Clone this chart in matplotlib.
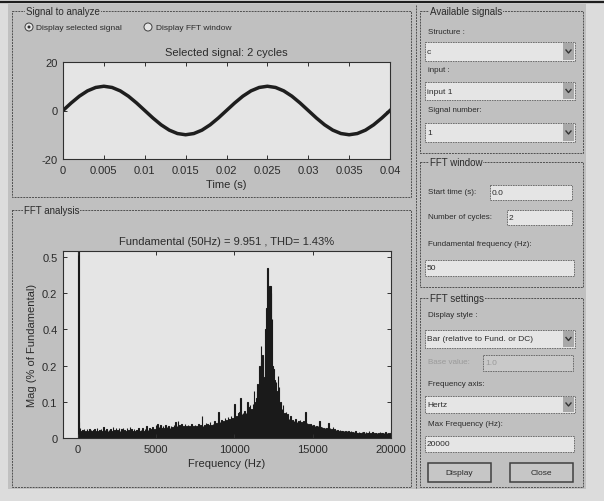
import matplotlib.pyplot as plt
from matplotlib.patches import Rectangle, Circle

plt.rcParams['font.family'] = ['Liberation Sans', 'DejaVu Sans']
plt.rcParams['axes.unicode_minus'] = False

W, H = 604, 502
GRAY = '#c0c0c0'
LIGHT = '#e5e5e5'
INK = '#2b2b2b'

# signal, every 1 ms
t = [i * 0.001 for i in range(41)]
signal = [0.0, 3.1, 5.9, 8.1, 9.5, 10.0, 9.5, 8.1, 5.9, 3.1,
          0.0, -3.1, -5.9, -8.1, -9.5, -10.0, -9.5, -8.1, -5.9, -3.1,
          0.0, 3.1, 5.9, 8.1, 9.5, 10.0, 9.5, 8.1, 5.9, 3.1,
          0.0, -3.1, -5.9, -8.1, -9.5, -10.0, -9.5, -8.1, -5.9, -3.1,
          0.0]
time_ticks = [0, 0.005, 0.01, 0.015, 0.02, 0.025, 0.03, 0.035, 0.04]
time_labels = ['0', '0.005', '0.01', '0.015', '0.02', '0.025', '0.03', '0.035', '0.04']

# harmonic magnitudes (% of fundamental), 50 Hz steps
mag_0_5k = [
    100, 0.045, 0.028, 0.02, 0.015, 0.022, 0.018, 0.025, 0.014, 0.02,
    0.017, 0.024, 0.015, 0.02, 0.026, 0.016, 0.021, 0.015, 0.019, 0.023,
    0.018, 0.025, 0.014, 0.02, 0.028, 0.016, 0.019, 0.022, 0.015, 0.024,
    0.017, 0.02, 0.03, 0.015, 0.021, 0.016, 0.025, 0.015, 0.019, 0.022,
    0.017, 0.026, 0.02, 0.015, 0.03, 0.019, 0.023, 0.015, 0.027, 0.018,
    0.021, 0.016, 0.029, 0.02, 0.016, 0.024, 0.019, 0.028, 0.015, 0.022,
    0.02, 0.016, 0.027, 0.018, 0.022, 0.015, 0.03, 0.017, 0.024, 0.02,
    0.016, 0.026, 0.019, 0.015, 0.023, 0.021, 0.017, 0.028, 0.016, 0.02,
    0.022, 0.017, 0.029, 0.02, 0.016, 0.025, 0.019, 0.032, 0.016, 0.023,
    0.02, 0.027, 0.018, 0.024, 0.016, 0.03, 0.021, 0.026, 0.019, 0.035]
mag_5_10k = [
    0.024, 0.038, 0.02, 0.031, 0.026, 0.035, 0.018, 0.029, 0.033, 0.022,
    0.027, 0.036, 0.021, 0.03, 0.025, 0.034, 0.019, 0.028, 0.032, 0.024,
    0.03, 0.022, 0.036, 0.027, 0.045, 0.025, 0.032, 0.048, 0.028, 0.035,
    0.023, 0.031, 0.04, 0.026, 0.034, 0.029, 0.038, 0.024, 0.033, 0.027,
    0.035, 0.028, 0.032, 0.025, 0.038, 0.03, 0.027, 0.034, 0.022, 0.036,
    0.029, 0.033, 0.026, 0.04, 0.031, 0.028, 0.035, 0.03, 0.06, 0.032,
    0.03, 0.036, 0.028, 0.042, 0.033, 0.038, 0.027, 0.035, 0.045, 0.031,
    0.037, 0.029, 0.04, 0.034, 0.048, 0.036, 0.042, 0.032, 0.046, 0.072,
    0.038, 0.044, 0.035, 0.05, 0.041, 0.047, 0.036, 0.055, 0.043, 0.049,
    0.04, 0.058, 0.046, 0.052, 0.044, 0.062, 0.048, 0.056, 0.05, 0.094]
mag_10_15k = [
    0.06, 0.052, 0.06, 0.055, 0.068, 0.05, 0.072, 0.11, 0.058, 0.065,
    0.07, 0.055, 0.075, 0.062, 0.068, 0.06, 0.1, 0.085, 0.07, 0.09,
    0.065, 0.08, 0.072, 0.095, 0.13, 0.085, 0.1, 0.11, 0.13, 0.15,
    0.14, 0.2, 0.18, 0.255, 0.21, 0.23, 0.17, 0.15, 0.22, 0.3,
    0.36, 0.47, 0.38, 0.34, 0.42, 0.42, 0.4, 0.33, 0.2, 0.19,
    0.16, 0.14, 0.155, 0.12, 0.13, 0.172, 0.14, 0.09, 0.1, 0.075,
    0.08, 0.09, 0.065, 0.07, 0.06, 0.072, 0.055, 0.065, 0.05, 0.053,
    0.048, 0.06, 0.045, 0.05, 0.042, 0.048, 0.04, 0.052, 0.038, 0.045,
    0.04, 0.046, 0.036, 0.05, 0.038, 0.044, 0.035, 0.048, 0.04, 0.045,
    0.072, 0.038, 0.042, 0.034, 0.04, 0.032, 0.038, 0.03, 0.036, 0.033]
mag_15_20k = [
    0.035, 0.029, 0.034, 0.03, 0.032, 0.027, 0.033, 0.028, 0.048, 0.031,
    0.026, 0.03, 0.025, 0.029, 0.024, 0.028, 0.023, 0.027, 0.025, 0.042,
    0.024, 0.028, 0.022, 0.026, 0.021, 0.03, 0.02, 0.025, 0.019, 0.023,
    0.018, 0.022, 0.02, 0.017, 0.021, 0.016, 0.02, 0.018, 0.015, 0.019,
    0.017, 0.02, 0.015, 0.018, 0.014, 0.019, 0.016, 0.013, 0.018, 0.015,
    0.017, 0.012, 0.016, 0.014, 0.018, 0.013, 0.015, 0.012, 0.017, 0.014,
    0.015, 0.012, 0.016, 0.013, 0.017, 0.011, 0.014, 0.016, 0.012, 0.015,
    0.013, 0.018, 0.011, 0.014, 0.012, 0.016, 0.013, 0.015, 0.011, 0.014,
    0.013, 0.015, 0.011, 0.014, 0.012, 0.016, 0.01, 0.013, 0.015, 0.011,
    0.014, 0.012, 0.016, 0.01, 0.013, 0.011, 0.015, 0.012, 0.014, 0.018]
mag = mag_0_5k + mag_5_10k + mag_10_15k + mag_15_20k
freq = list(range(50, 20001, 50))
freq_ticks = [0, 5000, 10000, 15000, 20000]
mag_ticks = [0, 0.1, 0.2, 0.3, 0.4, 0.5]
mag_labels = ['0', '0.1', '0.2', '0.4', '0.2', '0.5']  # as printed in the scan

fig = plt.figure(figsize=(W / 100, H / 100), dpi=100)
fig.patch.set_facecolor('#dcdcdc')

# pixel-space layer for the GUI frame
ui = fig.add_axes([0, 0, 1, 1])
ui.set_xlim(0, W)
ui.set_ylim(H, 0)
ui.axis('off')

ui.add_patch(Rectangle((8, 5), 578, 485, facecolor=GRAY, edgecolor='none'))
ui.plot([0, W], [3, 3], color='#1e1e1e', lw=1.6)


def frame(x0, y0, x1, y1, title, tx):
    ui.add_patch(Rectangle((x0, y0), x1 - x0, y1 - y0, facecolor='none',
                           edgecolor='#505050', linestyle=(0, (2, 1)), lw=0.7))
    ui.text(tx, y0, title, fontsize=7, color=INK, va='center', ha='left',
            bbox=dict(facecolor=GRAY, edgecolor='none', pad=0.6))


def field(x0, y0, x1, y1, txt, arrow=False, color=INK, fc=LIGHT):
    ui.add_patch(Rectangle((x0, y0), x1 - x0, y1 - y0, facecolor=fc,
                           edgecolor='#606060', linestyle=(0, (2, 1)), lw=0.6))
    ui.text(x0 + 2, (y0 + y1) / 2, txt, fontsize=6, color=color, va='center')
    if arrow:
        ui.add_patch(Rectangle((x1 - 12, y0 + 1), 11, y1 - y0 - 2,
                               facecolor='#a8a8a8', edgecolor='none'))
        cy = (y0 + y1) / 2
        ui.plot([x1 - 9, x1 - 6.5, x1 - 4], [cy - 1.5, cy + 1.5, cy - 1.5],
                color='#333333', lw=1)


def label(x, y, txt, color=INK):
    ui.text(x, y, txt, fontsize=5.8, color=color, va='center')


def button(x0, y0, x1, y1, txt):
    ui.add_patch(Rectangle((x0, y0), x1 - x0, y1 - y0, facecolor='#c6c6c6',
                           edgecolor='#404040', lw=1.1))
    ui.text((x0 + x1) / 2, (y0 + y1) / 2, txt, fontsize=6, color=INK,
            ha='center', va='center')


# left panels
frame(12, 12, 411, 198, 'Signal to analyze', 26)
frame(12, 211, 411, 488, 'FFT analysis', 24)
ui.plot([416, 416], [6, 489], color='#505050', linestyle=(0, (2, 1)), lw=0.7)

ui.add_patch(Circle((29, 28), 4, facecolor=LIGHT, edgecolor='#404040', lw=0.7))
ui.add_patch(Circle((29, 28), 1.5, facecolor='#303030', edgecolor='none'))
ui.text(36, 28, 'Display selected signal', fontsize=6, color=INK, va='center')
ui.add_patch(Circle((148, 28), 4, facecolor=LIGHT, edgecolor='#404040', lw=0.7))
ui.text(156, 28, 'Display FFT window', fontsize=6, color=INK, va='center')

# right panels
frame(420, 12, 583, 154, 'Available signals', 430)
label(428, 33, 'Structure :')
field(425, 43, 575, 62, 'c', arrow=True)
label(428, 70, 'input :')
field(425, 83, 575, 101, 'input 1', arrow=True)
label(428, 110, 'Signal number:')
field(425, 124, 575, 143, '1', arrow=True)

frame(420, 163, 583, 288, 'FFT window', 430)
label(428, 193, 'Start time (s):')
field(490, 186, 572, 201, '0.0')
label(428, 218, 'Number of cycles:')
field(507, 211, 572, 226, '2')
label(428, 245, 'Fundamental frequency (Hz):')
field(425, 261, 574, 277, '50')

frame(420, 299, 583, 488, 'FFT settings', 430)
label(428, 316, 'Display style :')
field(425, 331, 575, 349, 'Bar (relative to Fund. or DC)', arrow=True)
label(428, 363, 'Base value:', color='#9a9a9a')
field(483, 356, 573, 372, '1.0', color='#9a9a9a', fc='#c9c9c9')
label(428, 385, 'Frequency axis:')
field(425, 397, 575, 414, 'Hertz', arrow=True)
label(428, 425, 'Max Frequency (Hz):')
field(425, 437, 574, 453, '20000')
button(428, 464, 491, 483, 'Display')
button(510, 464, 573, 483, 'Close')

# upper plot: selected signal
ax1 = fig.add_axes([63 / W, 1 - 160 / H, 327 / W, 97 / H])
ax1.set_facecolor(LIGHT)
ax1.plot(t, signal, color='#1e1e1e', lw=2.5)
ax1.set_xlim(0, 0.04)
ax1.set_ylim(-20, 20)
ax1.set_yticks([-20, 0, 20])
ax1.set_xticks(time_ticks)
ax1.set_xticklabels(time_labels)
ax1.set_title('Selected signal: 2 cycles', fontsize=8, color=INK, pad=5)
ax1.set_xlabel('Time (s)', fontsize=8, color=INK, labelpad=3)

# lower plot: FFT bars
ax2 = fig.add_axes([63 / W, 1 - 439 / H, 328 / W, 187 / H])
ax2.set_facecolor(LIGHT)
ax2.bar(freq, mag, width=40, color='#1a1a1a', edgecolor='#1a1a1a', lw=0.8)
ax2.set_xlim(-930, 20000)
ax2.set_ylim(0, 0.517)
ax2.set_xticks(freq_ticks)
ax2.set_xticklabels([str(f) for f in freq_ticks])
ax2.set_yticks(mag_ticks)
ax2.set_yticklabels(mag_labels)
ax2.set_title('Fundamental (50Hz) = 9.951 , THD= 1.43%', fontsize=8, color=INK, pad=5)
ax2.set_xlabel('Frequency (Hz)', fontsize=8, color=INK, labelpad=3)
ax2.set_ylabel('Mag (% of Fundamental)', fontsize=8, color=INK)
ax2.yaxis.set_label_coords(-0.08, 0.5)

for ax in (ax1, ax2):
    ax.tick_params(direction='in', top=True, right=True, length=3, width=0.7,
                   labelsize=8, labelcolor=INK, color='#303030', pad=4)
    for s in ax.spines.values():
        s.set_color('#303030')
        s.set_linewidth(0.8)

fig.savefig('out.png', dpi=100, facecolor=fig.get_facecolor())
